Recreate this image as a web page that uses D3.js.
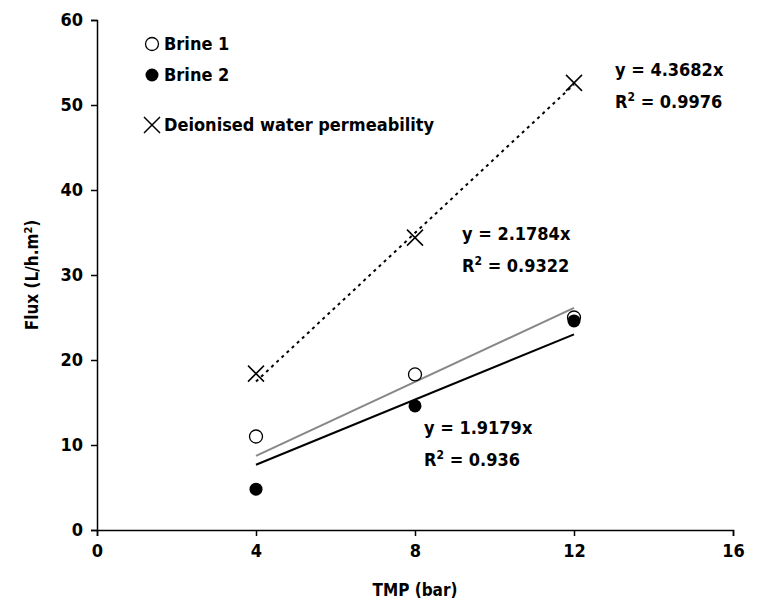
<!DOCTYPE html>
<html><head><meta charset="utf-8">
<script src="https://cdn.jsdelivr.net/npm/d3@7"></script>
<style>body{margin:0;background:#fff}text{font-family:"Liberation Sans Narrow","DejaVu Sans Condensed","Liberation Sans",Arial,sans-serif;font-weight:bold}</style>
</head><body><div id="chart"></div>
<script>
var tmp = [4, 8, 12];
var brine1 = [11, 18.3, 25];
var brine2 = [4.8, 14.6, 24.6];
var diWater = [18.4, 34.4, 52.6];
var slopes = {brine1: 2.1784, brine2: 1.9179, di: 4.3682};
var xTicks = [0, 4, 8, 12, 16];
var yTicks = [0, 10, 20, 30, 40, 50, 60];

var svg = d3.select("#chart").append("svg").attr("width", 780).attr("height", 610);
var x = d3.scaleLinear().domain([0, 16]).range([97, 733]);
var y = d3.scaleLinear().domain([0, 60]).range([530, 20]);

svg.append("g").attr("transform", "translate(0,530)")
  .call(d3.axisBottom(x).tickValues(xTicks).tickSize(6).tickPadding(8))
  .call(g => g.selectAll("text").attr("font-size", 18).attr("fill", "#000"));
svg.append("g").attr("transform", "translate(97,0)")
  .call(d3.axisLeft(y).tickValues(yTicks).tickSize(6).tickPadding(8))
  .call(g => g.selectAll("text").attr("font-size", 18).attr("fill", "#000"));
svg.selectAll(".domain,.tick line").attr("stroke", "#000").attr("stroke-width", 1.5);
svg.selectAll(".tick text").style("font-size", "18px");

svg.append("text").attr("x", 415).attr("y", 596).attr("text-anchor", "middle").attr("font-size", 17).text("TMP (bar)");
var yl = svg.append("text").attr("transform", "translate(38,275) rotate(-90)").attr("text-anchor", "middle").attr("font-size", 17);
yl.append("tspan").text("Flux (L/h.m");
yl.append("tspan").attr("dy", -6).attr("font-size", 11).text("2");
yl.append("tspan").attr("dy", 6).text(")");

function trend(k, color, dash) {
  svg.append("line").attr("x1", x(4)).attr("y1", y(4 * k)).attr("x2", x(12)).attr("y2", y(12 * k))
    .attr("stroke", color).attr("stroke-width", 2).attr("stroke-dasharray", dash);
}
trend(slopes.brine1, "#888", null);
trend(slopes.brine2, "#000", null);
trend(slopes.di, "#000", "3,4");

svg.selectAll(".b1").data(tmp).enter().append("circle")
  .attr("cx", (d) => x(d)).attr("cy", (d, i) => y(brine1[i])).attr("r", 6.5)
  .attr("fill", "#fff").attr("stroke", "#000").attr("stroke-width", 1.3);
svg.selectAll(".b2").data(tmp).enter().append("circle")
  .attr("cx", (d) => x(d)).attr("cy", (d, i) => y(brine2[i])).attr("r", 6.5).attr("fill", "#000");
function cross(g, cx, cy) {
  g.append("path").attr("d", `M${cx-8},${cy-8}L${cx+8},${cy+8}M${cx-8},${cy+8}L${cx+8},${cy-8}`)
    .attr("stroke", "#000").attr("stroke-width", 1.5);
}
tmp.forEach((d, i) => cross(svg, x(d), y(diWater[i])));

// legend
svg.append("circle").attr("cx", 152).attr("cy", 44).attr("r", 6.5).attr("fill", "#fff").attr("stroke", "#000").attr("stroke-width", 1.3);
svg.append("circle").attr("cx", 152).attr("cy", 75).attr("r", 6.5).attr("fill", "#000");
cross(svg, 152, 125);
[["Brine 1", 44], ["Brine 2", 75], ["Deionised water permeability", 125]].forEach(function (l) {
  svg.append("text").attr("x", 164).attr("y", l[1] + 6).attr("font-size", 18).text(l[0]);
});

function eq(xp, yp, s, r) {
  svg.append("text").attr("x", xp).attr("y", yp).attr("font-size", 18).text("y = " + s + "x");
  var t = svg.append("text").attr("x", xp).attr("y", yp + 32).attr("font-size", 18);
  t.append("tspan").text("R");
  t.append("tspan").attr("dy", -7).attr("font-size", 12).text("2");
  t.append("tspan").attr("dy", 7).text(" = " + r);
}
eq(615, 76, "4.3682", "0.9976");
eq(462, 240, "2.1784", "0.9322");
eq(424, 434, "1.9179", "0.936");
</script></body></html>
